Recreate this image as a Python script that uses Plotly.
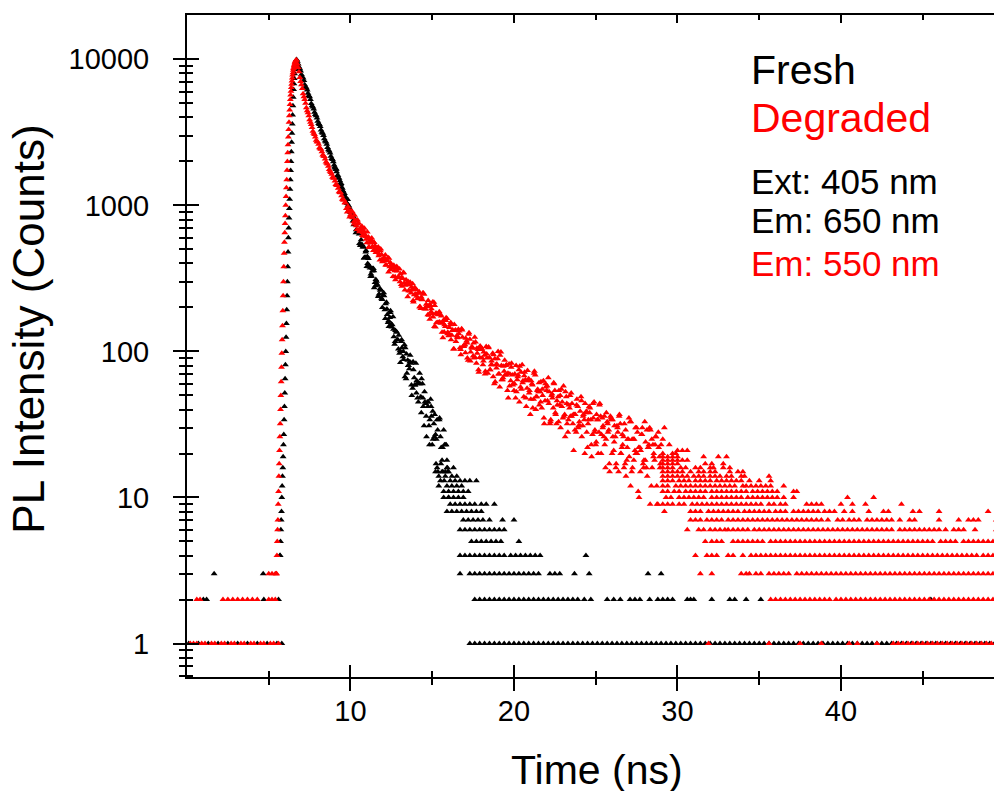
import math
import plotly.graph_objects as go

# PL decay (time in ns, counts)

# rising edge
fresh_rise_t = [5.68, 5.70, 5.72, 5.74, 5.76, 5.78, 5.80, 5.82, 5.84, 5.86,
                5.88, 5.90, 5.92, 5.94, 5.96, 5.98, 6.00, 6.02, 6.04, 6.06,
                6.08, 6.10, 6.12, 6.14, 6.16, 6.18, 6.20, 6.22, 6.24, 6.26,
                6.28, 6.30, 6.32, 6.34, 6.36, 6.38, 6.40, 6.42, 6.44, 6.46,
                6.48, 6.50, 6.52, 6.54, 6.56, 6.58, 6.60, 6.62, 6.64, 6.66]
fresh_rise_c = [4, 4, 5, 6, 7, 8, 10, 12, 14, 16,
                19, 23, 27, 34, 42, 52, 65, 81, 100, 125,
                155, 193, 240, 300, 380, 480, 600, 700, 820, 950,
                1100, 1290, 1500, 1730, 2000, 2330, 2700, 3120, 3600, 4150,
                4800, 5500, 6200, 6800, 7400, 7950, 8500, 8900, 9300, 9600]

degraded_rise_t = [5.46, 5.48, 5.50, 5.52, 5.54, 5.56, 5.58, 5.60, 5.62, 5.64,
                   5.66, 5.68, 5.70, 5.72, 5.74, 5.76, 5.78, 5.80, 5.82, 5.84,
                   5.86, 5.88, 5.90, 5.92, 5.94, 5.96, 5.98, 6.00, 6.02, 6.04,
                   6.06, 6.08, 6.10, 6.12, 6.14, 6.16, 6.18, 6.20, 6.22, 6.24,
                   6.26, 6.28, 6.30, 6.32, 6.34, 6.36, 6.38, 6.40, 6.42, 6.44,
                   6.46, 6.48, 6.50, 6.52, 6.54, 6.56, 6.58, 6.60, 6.62, 6.64, 6.66]
degraded_rise_c = [3, 3, 4, 5, 6, 7, 9, 11, 14, 17,
                   21, 26, 32, 40, 50, 62, 78, 97, 120, 150,
                   190, 240, 300, 380, 470, 560, 650, 750, 850, 1000,
                   1150, 1320, 1500, 1740, 2000, 2290, 2600, 2940, 3300, 3700,
                   4100, 4500, 4900, 5300, 5700, 6050, 6400, 6750, 7100, 7450,
                   7800, 8100, 8400, 8650, 8850, 9050, 9250, 9450, 9600, 9750, 9850]

# decay band (channels on the tenths of a ns)
fresh_decay_t = [6.7, 6.8, 6.9, 7.0, 7.1, 7.2, 7.3, 7.4, 7.5, 7.6,
                 7.7, 7.8, 7.9, 8.0, 8.1, 8.2, 8.3, 8.4, 8.5, 8.6,
                 8.7, 8.8, 8.9, 9.0, 9.1, 9.2, 9.3, 9.4, 9.5, 9.6,
                 9.7, 9.8, 9.9, 10.0, 10.1, 10.2, 10.3, 10.4, 10.5, 10.6,
                 10.7, 10.8, 10.9, 11.0, 11.1, 11.2, 11.3, 11.4, 11.5, 11.6,
                 11.7, 11.8, 11.9, 12.0, 12.1, 12.2, 12.3, 12.4, 12.5, 12.6,
                 12.7, 12.8, 12.9, 13.0, 13.1, 13.2, 13.3, 13.4, 13.5, 13.6,
                 13.7, 13.8, 13.9, 14.0, 14.1, 14.2, 14.3, 14.4, 14.5, 14.6,
                 14.7, 14.8, 14.9, 15.0, 15.1, 15.2, 15.3, 15.4, 15.5, 15.6,
                 15.7, 15.8, 15.9, 16.0]
fresh_decay_c = [9950, 9280, 8600, 7880, 7450, 6700, 6350, 5850, 5540, 4980,
                 4710, 4340, 4100, 3770, 3580, 3280, 3110, 2860, 2710, 2490,
                 2360, 2170, 2060, 1890, 1760, 1600, 1530, 1390, 1310, 1180,
                 1140, 1030, 990, 895, 855, 737, 743, 653, 669, 532,
                 536, 519, 442, 381, 432, 372, 327, 369, 296, 302,
                 239, 268, 231, 243, 193, 217, 158, 171, 154, 173,
                 112, 136, 120, 97, 117, 92, 111, 65, 87, 76,
                 83, 56, 66, 83, 48, 60, 49, 60, 31, 44,
                 45, 31, 47, 23, 32, 27, 34, 12, 26, 18,
                 29, 15, 18, 10]

# decay band (channels half-way between)
fresh_mid_t = [6.75, 6.85, 6.95, 7.05, 7.15, 7.25, 7.35, 7.45, 7.55, 7.65,
               7.75, 7.85, 7.95, 8.05, 8.15, 8.25, 8.35, 8.45, 8.55, 8.65,
               8.75, 8.85, 8.95, 9.05, 9.15, 9.25, 9.35, 9.45, 9.55, 9.65,
               9.75, 9.85, 9.95, 10.05, 10.15, 10.25, 10.35, 10.45, 10.55, 10.65,
               10.75, 10.85, 10.95, 11.05, 11.15, 11.25, 11.35, 11.45, 11.55, 11.65,
               11.75, 11.85, 11.95, 12.05, 12.15, 12.25, 12.35, 12.45, 12.55, 12.65,
               12.75, 12.85, 12.95, 13.05, 13.15, 13.25, 13.35, 13.45, 13.55, 13.65,
               13.75, 13.85, 13.95, 14.05, 14.15, 14.25, 14.35, 14.45, 14.55, 14.65,
               14.75, 14.85, 14.95, 15.05, 15.15, 15.25, 15.35, 15.45, 15.55, 15.65,
               15.75, 15.85, 15.95]
fresh_mid_c = [9700, 8850, 8300, 7600, 7150, 6480, 6150, 5640, 5300, 4800,
               4560, 4190, 3970, 3640, 3460, 3170, 3010, 2760, 2620, 2400,
               2280, 2090, 1990, 1800, 1700, 1545, 1475, 1335, 1255, 1145,
               1095, 1000, 955, 868, 782, 790, 680, 657, 547, 581,
               519, 440, 490, 400, 387, 339, 370, 273, 311, 284,
               247, 264, 200, 240, 212, 179, 148, 190, 152, 126,
               139, 120, 129, 84, 106, 88, 106, 71, 80, 94,
               50, 75, 59, 63, 45, 60, 65, 42, 45, 26,
               45, 34, 36, 25, 37, 25, 15, 35, 22, 15,
               23, 23, 15]

# decay band (a third set of channels, where the band is noisy)
fresh_alt_t = [9.03, 9.13, 9.23, 9.33, 9.43, 9.53, 9.63, 9.73, 9.83, 9.93,
               10.03, 10.13, 10.23, 10.33, 10.43, 10.53, 10.63, 10.73, 10.83, 10.93,
               11.03, 11.13, 11.23, 11.33, 11.43, 11.53, 11.63, 11.73, 11.83, 11.93,
               12.03, 12.13, 12.23, 12.33, 12.43, 12.53, 12.63, 12.73, 12.83, 12.93,
               13.03, 13.13, 13.23, 13.33, 13.43, 13.53, 13.63, 13.73, 13.83, 13.93,
               14.03, 14.13, 14.23, 14.33, 14.43, 14.53, 14.63, 14.73, 14.83, 14.93,
               15.03, 15.13, 15.23, 15.33, 15.43, 15.53, 15.63, 15.73, 15.83, 15.93]
fresh_alt_c = [1830, 1774, 1606, 1388, 1411, 1256, 1206, 1050, 1097, 938,
               854, 835, 821, 650, 653, 636, 543, 535, 434, 480,
               447, 380, 326, 355, 357, 281, 288, 238, 262, 227,
               252, 168, 195, 162, 185, 147, 142, 117, 136, 104,
               101, 120, 100, 67, 96, 80, 85, 59, 85, 59,
               52, 61, 71, 38, 48, 53, 36, 42, 23, 42,
               39, 26, 17, 29, 34, 17, 22, 13, 23, 16]

degraded_decay_t = [6.7, 6.8, 6.9, 7.0, 7.1, 7.2, 7.3, 7.4, 7.5, 7.6,
                    7.7, 7.8, 7.9, 8.0, 8.1, 8.2, 8.3, 8.4, 8.5, 8.6,
                    8.7, 8.8, 8.9, 9.0, 9.1, 9.2, 9.3, 9.4, 9.5, 9.6,
                    9.7, 9.8, 9.9, 10.0, 10.1, 10.2, 10.3, 10.4, 10.5, 10.6,
                    10.7, 10.8, 10.9, 11.0, 11.1, 11.2, 11.3, 11.4, 11.5, 11.6,
                    11.7, 11.8, 11.9, 12.0, 12.1, 12.2, 12.3, 12.4, 12.5, 12.6,
                    12.7, 12.8, 12.9, 13.0, 13.1, 13.2, 13.3, 13.4, 13.5, 13.6,
                    13.7, 13.8, 13.9, 14.0, 14.1, 14.2, 14.3, 14.4, 14.5, 14.6,
                    14.7, 14.8, 14.9, 15.0, 15.1, 15.2, 15.3, 15.4, 15.5, 15.6,
                    15.7, 15.8, 15.9, 16.0, 16.1, 16.2, 16.3, 16.4, 16.5, 16.6,
                    16.7, 16.8, 16.9, 17.0, 17.1, 17.2, 17.3, 17.4, 17.5, 17.6,
                    17.7, 17.8, 17.9, 18.0, 18.1, 18.2, 18.3, 18.4, 18.5, 18.6,
                    18.7, 18.8, 18.9, 19.0, 19.1, 19.2, 19.3, 19.4, 19.5, 19.6,
                    19.7, 19.8, 19.9, 20.0, 20.1, 20.2, 20.3, 20.4, 20.5, 20.6,
                    20.7, 20.8, 20.9, 21.0, 21.1, 21.2, 21.3, 21.4, 21.5, 21.6,
                    21.7, 21.8, 21.9, 22.0, 22.1, 22.2, 22.3, 22.4, 22.5, 22.6,
                    22.7, 22.8, 22.9, 23.0, 23.1, 23.2, 23.3, 23.4, 23.5, 23.6,
                    23.7, 23.8, 23.9, 24.0, 24.1, 24.2, 24.3, 24.4, 24.5, 24.6,
                    24.7, 24.8, 24.9, 25.0, 25.1, 25.2, 25.3, 25.4, 25.5, 25.6,
                    25.7, 25.8, 25.9, 26.0, 26.1, 26.2, 26.3, 26.4, 26.5, 26.6,
                    26.7, 26.8, 26.9, 27.0, 27.1, 27.2, 27.3, 27.4, 27.5, 27.6,
                    27.7, 27.8, 27.9, 28.0, 28.1, 28.2, 28.3, 28.4, 28.5, 28.6,
                    28.7, 28.8, 28.9, 29.0]
degraded_decay_c = [9900, 8800, 7500, 6700, 5800, 5300, 4650, 4300, 3850, 3580,
                    3210, 3050, 2790, 2710, 2480, 2420, 2210, 2160, 1980, 1920,
                    1760, 1680, 1560, 1530, 1390, 1370, 1240, 1220, 1100, 1090,
                    1038, 900, 927, 863, 908, 773, 785, 682, 756, 676,
                    718, 616, 629, 554, 608, 553, 597, 490, 529, 479,
                    519, 423, 461, 422, 431, 389, 437, 380, 393, 326,
                    357, 371, 319, 367, 287, 316, 295, 309, 237, 286,
                    251, 291, 244, 248, 230, 256, 197, 226, 246, 195,
                    203, 177, 206, 182, 217, 147, 180, 158, 179, 135,
                    164, 148, 168, 128, 152, 129, 104, 139, 128, 142,
                    106, 143, 109, 111, 118, 87, 121, 107, 93, 125,
                    83, 103, 91, 103, 81, 94, 108, 71, 91, 81,
                    97, 60, 81, 89, 70, 99, 64, 73, 80, 54,
                    82, 63, 69, 54, 48, 64, 75, 57, 81, 49,
                    64, 56, 65, 37, 60, 47, 69, 49, 53, 53,
                    41, 63, 46, 54, 66, 32, 50, 41, 54, 32,
                    49, 43, 55, 35, 37, 49, 28, 41, 52, 32,
                    37, 28, 42, 33, 49, 31, 34, 38, 22, 42,
                    34, 27, 45, 23, 34, 28, 36, 35, 26, 16,
                    33, 29, 36, 20, 21, 26, 31, 15, 32, 22,
                    26, 17, 18, 25, 33, 15, 25, 21, 30, 11,
                    22, 27, 17, 33, 16, 22, 30, 12, 23, 18,
                    26, 9, 19, 23]

degraded_mid_t = [6.75, 6.85, 6.95, 7.05, 7.15, 7.25, 7.35, 7.45, 7.55, 7.65,
                  7.75, 7.85, 7.95, 8.05, 8.15, 8.25, 8.35, 8.45, 8.55, 8.65,
                  8.75, 8.85, 8.95, 9.05, 9.15, 9.25, 9.35, 9.45, 9.55, 9.65,
                  9.75, 9.85, 9.95, 10.05, 10.15, 10.25, 10.35, 10.45, 10.55, 10.65,
                  10.75, 10.85, 10.95, 11.05, 11.15, 11.25, 11.35, 11.45, 11.55, 11.65,
                  11.75, 11.85, 11.95, 12.05, 12.15, 12.25, 12.35, 12.45, 12.55, 12.65,
                  12.75, 12.85, 12.95, 13.05, 13.15, 13.25, 13.35, 13.45, 13.55, 13.65,
                  13.75, 13.85, 13.95, 14.05, 14.15, 14.25, 14.35, 14.45, 14.55, 14.65,
                  14.75, 14.85, 14.95, 15.05, 15.15, 15.25, 15.35, 15.45, 15.55, 15.65,
                  15.75, 15.85, 15.95, 16.05, 16.15, 16.25, 16.35, 16.45, 16.55, 16.65,
                  16.75, 16.85, 16.95, 17.05, 17.15, 17.25, 17.35, 17.45, 17.55, 17.65,
                  17.75, 17.85, 17.95, 18.05, 18.15, 18.25, 18.35, 18.45, 18.55, 18.65,
                  18.75, 18.85, 18.95, 19.05, 19.15, 19.25, 19.35, 19.45, 19.55, 19.65,
                  19.75, 19.85, 19.95, 20.05, 20.15, 20.25, 20.35, 20.45, 20.55, 20.65,
                  20.75, 20.85, 20.95, 21.05, 21.15, 21.25, 21.35, 21.45, 21.55, 21.65,
                  21.75, 21.85, 21.95, 22.05, 22.15, 22.25, 22.35, 22.45, 22.55, 22.65,
                  22.75, 22.85, 22.95, 23.05, 23.15, 23.25, 23.35, 23.45, 23.55, 23.65,
                  23.75, 23.85, 23.95, 24.05, 24.15, 24.25, 24.35, 24.45, 24.55, 24.65,
                  24.75, 24.85, 24.95, 25.05, 25.15, 25.25, 25.35, 25.45, 25.55, 25.65,
                  25.75, 25.85, 25.95, 26.05, 26.15, 26.25, 26.35, 26.45, 26.55, 26.65,
                  26.75, 26.85, 26.95, 27.05, 27.15, 27.25, 27.35, 27.45, 27.55, 27.65,
                  27.75, 27.85, 27.95, 28.05, 28.15, 28.25, 28.35, 28.45, 28.55, 28.65,
                  28.75, 28.85, 28.95]
degraded_mid_c = [9300, 8200, 7050, 6300, 5550, 5000, 4450, 4100, 3700, 3410,
                  3110, 2940, 2730, 2620, 2440, 2330, 2180, 2080, 1940, 1850,
                  1710, 1630, 1540, 1465, 1375, 1310, 1225, 1165, 1090, 1040,
                  952, 982, 831, 897, 824, 857, 724, 744, 660, 706,
                  650, 696, 587, 594, 515, 583, 522, 557, 476, 510,
                  464, 503, 411, 440, 390, 419, 434, 364, 375, 389,
                  309, 355, 324, 340, 279, 347, 284, 292, 260, 298,
                  263, 218, 268, 239, 250, 203, 227, 251, 196, 202,
                  223, 166, 196, 172, 206, 157, 178, 159, 175, 124,
                  152, 170, 135, 146, 120, 140, 153, 117, 126, 138,
                  95, 125, 110, 123, 90, 134, 99, 107, 90, 116,
                  97, 72, 107, 90, 99, 73, 90, 107, 75, 81,
                  95, 62, 82, 70, 94, 64, 79, 69, 81, 48,
                  70, 83, 60, 70, 53, 69, 79, 55, 63, 72,
                  42, 63, 54, 63, 41, 73, 49, 55, 43, 62,
                  50, 32, 57, 46, 53, 34, 48, 60, 37, 43,
                  54, 30, 45, 36, 53, 32, 43, 36, 44, 21,
                  37, 47, 31, 39, 26, 37, 44, 28, 34, 41,
                  19, 35, 29, 37, 20, 44, 27, 31, 23, 38,
                  28, 15, 34, 26, 31, 17, 28, 37, 20, 23,
                  32, 14, 25, 19, 33, 16, 25, 20, 28, 10,
                  21, 30, 18, 24, 14, 23, 29, 16, 20, 26,
                  9, 22, 17]

degraded_alt_t = [10.03, 10.13, 10.23, 10.33, 10.43, 10.53, 10.63, 10.73, 10.83, 10.93,
                  11.03, 11.13, 11.23, 11.33, 11.43, 11.53, 11.63, 11.73, 11.83, 11.93,
                  12.03, 12.13, 12.23, 12.33, 12.43, 12.53, 12.63, 12.73, 12.83, 12.93,
                  13.03, 13.13, 13.23, 13.33, 13.43, 13.53, 13.63, 13.73, 13.83, 13.93,
                  14.03, 14.13, 14.23, 14.33, 14.43, 14.53, 14.63, 14.73, 14.83, 14.93,
                  15.03, 15.13, 15.23, 15.33, 15.43, 15.53, 15.63, 15.73, 15.83, 15.93,
                  16.03, 16.13, 16.23, 16.33, 16.43, 16.53, 16.63, 16.73, 16.83, 16.93,
                  17.03, 17.13, 17.23, 17.33, 17.43, 17.53, 17.63, 17.73, 17.83, 17.93,
                  18.03, 18.13, 18.23, 18.33, 18.43, 18.53, 18.63, 18.73, 18.83, 18.93,
                  19.03, 19.13, 19.23, 19.33, 19.43, 19.53, 19.63, 19.73, 19.83, 19.93,
                  20.03, 20.13, 20.23, 20.33, 20.43, 20.53, 20.63, 20.73, 20.83, 20.93,
                  21.03, 21.13, 21.23, 21.33, 21.43, 21.53, 21.63, 21.73, 21.83, 21.93,
                  22.03, 22.13, 22.23, 22.33, 22.43, 22.53, 22.63, 22.73, 22.83, 22.93,
                  23.03, 23.13, 23.23, 23.33, 23.43, 23.53, 23.63, 23.73, 23.83, 23.93,
                  24.03, 24.13, 24.23, 24.33, 24.43, 24.53, 24.63, 24.73, 24.83, 24.93,
                  25.03, 25.13, 25.23, 25.33, 25.43, 25.53, 25.63, 25.73, 25.83, 25.93,
                  26.03, 26.13, 26.23, 26.33, 26.43, 26.53, 26.63, 26.73, 26.83, 26.93,
                  27.03, 27.13, 27.23, 27.33, 27.43, 27.53, 27.63, 27.73, 27.83, 27.93,
                  28.03, 28.13, 28.23, 28.33, 28.43, 28.53, 28.63, 28.73, 28.83, 28.93]
degraded_alt_c = [919, 825, 745, 788, 793, 680, 693, 621, 664, 613,
                  658, 521, 570, 517, 560, 500, 496, 451, 489, 426,
                  418, 458, 417, 349, 406, 371, 380, 324, 381, 320,
                  300, 322, 344, 263, 290, 301, 259, 276, 223, 274,
                  265, 229, 201, 236, 251, 196, 210, 178, 209, 187,
                  218, 148, 183, 158, 187, 156, 157, 136, 163, 132,
                  132, 158, 139, 104, 140, 124, 132, 103, 140, 108,
                  98, 114, 131, 86, 105, 114, 91, 105, 75, 109,
                  105, 86, 70, 96, 106, 75, 86, 67, 89, 77,
                  100, 57, 80, 66, 87, 69, 71, 58, 78, 59,
                  60, 80, 67, 45, 72, 61, 68, 48, 74, 52,
                  47, 59, 71, 40, 54, 61, 45, 55, 35, 60,
                  58, 44, 33, 51, 61, 38, 46, 33, 50, 42,
                  58, 26, 44, 34, 50, 36, 37, 29, 43, 30,
                  31, 46, 36, 20, 39, 32, 38, 23, 44, 28,
                  24, 34, 43, 20, 30, 36, 25, 32, 17, 35,
                  34, 24, 16, 30, 36, 20, 27, 16, 29, 22,
                  35, 12, 25, 18, 30, 20, 22, 15, 27, 16,
                  18, 29, 22, 9, 25, 19, 23, 12, 28, 16]

# low-count channels: times at which each integer count shows up
fresh_l1 = [0.1, 0.7, 1.3, 1.9, 2.5, 3.1, 3.7, 4.3, 4.9, 5.5, 5.8,
            17.3, 17.6, 17.9, 18.2, 18.5, 18.8, 19.1, 19.4, 19.7, 20.0, 20.3, 20.6, 20.9, 21.2,
            21.5, 21.8, 22.1, 22.4, 22.7, 23.0, 23.3, 23.6, 23.9, 24.2, 24.5, 24.8, 25.1, 25.4,
            25.7, 26.0, 26.3, 26.6, 26.9, 27.2, 27.5, 27.8, 28.1, 28.4, 28.7, 29.0, 29.3, 29.6,
            29.9, 30.2, 30.5, 30.8, 31.1, 31.4, 31.7, 32.0, 32.3, 32.6, 32.9, 33.2, 33.5, 33.8,
            34.1, 34.4, 34.7, 35.0, 35.3, 35.6, 35.9, 36.2, 36.5, 36.8, 37.1, 37.4, 37.7, 38.0,
            38.3, 38.6, 38.9, 39.2, 39.5, 39.8, 40.1, 40.4, 40.7, 41.0, 41.3, 41.6, 41.9, 42.2,
            42.5, 42.8, 43.1, 43.4, 43.7, 44.0, 44.3, 44.6, 44.9, 45.2, 45.5, 45.8, 46.1, 46.4,
            46.7, 47.0, 47.3, 47.6, 47.9, 48.2, 48.5, 48.8, 49.1, 49.4, 49.7]
fresh_l2 = [1.0, 1.2, 4.7, 5.6,
            17.6, 17.9, 18.2, 18.5, 18.8, 19.1, 19.4, 19.7, 20.0, 20.3, 20.6, 20.9, 21.2, 21.5,
            21.8, 22.1, 22.4, 22.7, 23.0, 23.3, 23.6, 23.9, 24.3, 24.7, 25.7, 26.1, 26.5, 27.1,
            27.4, 27.7, 28.3, 28.8, 29.1, 29.4, 29.7, 30.6, 30.8, 31.0, 32.1, 33.2, 33.5, 34.2,
            35.1, 45.5]
fresh_l3 = [1.66, 4.66, 16.7, 17.3, 17.6, 17.9, 18.2, 18.5, 18.8, 19.1, 19.4, 19.7, 20.0, 20.3,
            20.6, 20.9, 21.2, 21.5, 22.2, 22.5, 22.8, 23.7, 24.6, 28.2, 29.0]
fresh_l4 = [16.7, 17.0, 17.3, 17.6, 17.9, 18.2, 18.5, 18.8, 19.1, 19.4, 19.8, 20.1, 20.4, 20.7,
            21.0, 21.3, 21.6, 24.4]
fresh_l5 = [17.4, 17.7, 18.0, 18.3, 18.6, 18.9, 19.2, 20.3]
fresh_l6 = [16.7, 17.0, 17.3, 17.6, 17.9, 18.2, 18.5, 18.8, 19.1, 19.4]
fresh_l7 = [16.9, 17.2, 17.5, 17.8, 18.1, 18.5, 19.3, 20.0]
fresh_l8 = [15.9, 16.2, 16.5, 16.8, 17.1, 17.4, 17.7, 18.0]
fresh_l9 = [16.1, 16.4, 16.7, 17.0, 17.3, 17.6, 18.0, 18.3, 18.8]
fresh_l10 = [15.7, 16.0, 16.3, 16.6, 16.9]
fresh_l11 = [15.7, 16.0, 16.3, 16.6, 16.9, 17.2]
fresh_l12 = [15.9, 16.2, 16.5, 16.8]
fresh_l13 = [15.5, 16.1, 16.4, 16.7, 17.0, 17.3, 17.7]
fresh_l14 = [15.4, 15.8, 16.2, 16.5]
fresh_l15 = [15.2, 15.6, 16.0]
fresh_l16 = [15.3, 15.9, 16.3]

degraded_l1 = [0.2, 0.4, 0.6, 0.9, 1.1, 1.5, 1.7, 2.1, 2.3, 2.7, 2.9, 3.3, 3.5, 3.9, 4.1, 4.5,
               4.7, 5.1, 5.3, 5.6, 31.9, 35.6, 37.5, 38.8, 40.5, 41.0, 42.2,
               43.2, 43.5, 43.8, 44.1, 44.4, 44.7, 45.0, 45.3, 45.6, 45.9, 46.2, 46.5, 46.8,
               47.1, 47.4, 47.7, 48.0, 48.3, 48.6, 48.9, 49.2, 49.5, 49.8]
degraded_l2 = [0.6, 0.8, 2.2, 2.5, 2.8, 3.1, 3.4, 3.7, 4.0, 4.3, 5.0, 5.2, 5.4,
               35.7, 36.0, 36.3, 36.6, 36.9, 37.2, 37.5, 37.8, 38.1, 38.4, 38.7, 39.0, 39.3,
               39.7, 40.0, 40.3, 40.6, 40.9, 41.2, 41.5, 41.8, 42.1, 42.4, 42.7, 43.0, 43.3,
               43.6, 43.9, 44.2, 44.5, 44.8, 45.1, 45.4, 45.7, 46.0, 46.3, 46.6, 46.9, 47.2,
               47.5, 47.8, 48.1, 48.4, 48.7, 49.0, 49.3, 49.6, 49.9]
degraded_l3 = [5.0, 5.2, 5.4, 31.4, 32.1, 33.9, 34.2, 34.4, 34.8, 35.1, 35.6, 35.9, 36.2, 36.5,
               36.8, 37.3, 37.6, 37.9, 38.2, 38.5, 38.8, 39.1, 39.4, 39.7, 40.0, 40.3, 40.6,
               40.9, 41.2, 41.5, 41.8, 42.1, 42.4, 42.7, 43.0, 43.3, 43.6, 43.9, 44.2, 44.5,
               44.8, 45.1, 45.4, 45.7, 46.0, 46.3, 46.6, 46.9, 47.2, 47.5, 47.8, 48.1, 48.4,
               48.7, 49.0, 49.3, 49.6, 49.9]
degraded_l4 = [31.1, 31.8, 32.1, 32.4, 33.1, 33.4, 34.0, 34.5, 34.8, 35.1, 35.4, 35.7, 36.0,
               36.3, 36.6, 36.9, 37.2, 37.5, 37.8, 38.1, 38.4, 38.7, 39.0, 39.3, 39.6, 39.9,
               40.2, 40.5, 40.8, 41.1, 41.4, 41.7, 42.0, 42.3, 42.6, 42.9, 43.2, 43.5, 43.8,
               44.1, 44.4, 44.7, 45.0, 45.3, 45.6, 45.9, 46.2, 46.5, 46.8, 47.1, 47.4, 47.7,
               48.0, 48.3, 48.7, 49.0, 49.3, 49.6]
degraded_l5 = [31.7, 32.1, 32.4, 32.7, 33.4, 33.7, 34.0, 34.3, 34.6, 34.9, 35.2, 35.7, 36.0,
               36.3, 36.6, 36.9, 37.2, 37.5, 37.8, 38.1, 38.4, 38.7, 39.0, 39.3, 39.6, 39.9,
               40.2, 40.5, 40.8, 41.1, 41.4, 41.7, 42.0, 42.3, 42.6, 42.9, 43.2, 43.5, 43.8,
               44.1, 44.4, 44.7, 45.0, 45.3, 45.6, 46.1, 46.4, 46.7, 47.0, 47.5, 47.8, 48.1,
               48.4, 48.7, 49.0, 49.3, 49.6]
degraded_l6 = [30.6, 31.3, 31.6, 32.0, 32.3, 32.6, 32.9, 33.1, 33.4, 33.7, 34.0, 34.3, 34.7,
               35.0, 35.3, 35.6, 35.9, 36.2, 36.5, 36.8, 37.1, 37.4, 37.7, 38.0, 38.3, 38.6,
               38.9, 39.2, 39.5, 39.8, 40.1, 40.4, 40.7, 41.0, 41.3, 41.6, 41.9, 42.2, 42.5,
               42.8, 43.1, 43.6, 43.9, 44.2, 44.5, 44.8, 45.1, 45.4, 45.7, 46.0, 46.4, 46.9,
               47.2, 47.5, 48.2, 49.5]
degraded_l7 = [30.8, 31.1, 31.4, 31.8, 32.1, 32.4, 32.7, 33.1, 33.4, 33.7, 34.0, 34.3, 34.6,
               34.9, 35.2, 35.5, 35.8, 36.1, 36.4, 36.7, 37.0, 37.3, 37.6, 37.9, 38.2, 38.5,
               38.8, 39.2, 39.8, 40.1, 40.5, 40.8, 41.1, 41.6, 41.9, 42.2, 42.5, 42.8, 43.1,
               43.6, 44.2, 44.5, 46.0, 47.2, 47.8, 48.1, 48.4, 49.5]
degraded_l8 = [29.2, 30.8, 31.1, 31.4, 31.9, 32.2, 32.5, 32.8, 33.1, 33.4, 33.7, 34.1, 34.4,
               34.7, 35.0, 35.3, 35.6, 36.0, 36.3, 36.6, 37.1, 37.4, 37.7, 38.0, 38.3, 38.6,
               39.0, 39.3, 39.6, 40.2, 40.7, 41.7, 42.6, 42.9, 44.4, 44.8, 46.0, 49.0]
degraded_l9 = [29.1, 29.4, 29.7, 30.1, 30.4, 30.9, 31.2, 31.5, 31.8, 32.1, 32.4, 32.7, 33.0,
               33.3, 33.6, 33.9, 34.2, 34.5, 34.8, 35.1, 35.6, 35.9, 36.3, 36.6, 37.9, 38.2,
               38.5, 38.8, 40.0, 40.7, 41.5, 43.7]
degraded_l10 = [29.3, 29.6, 30.1, 30.4, 30.7, 31.0, 31.3, 31.6, 32.1, 32.4, 32.7, 33.0, 33.3,
                33.6, 33.9, 34.3, 34.6, 34.9, 35.2, 35.5, 35.8, 36.1, 36.5, 37.1, 40.4, 42.0]
degraded_l11 = [29.1, 29.4, 29.8, 30.1, 30.5, 30.8, 31.1, 31.4, 31.7, 32.1, 32.4, 32.7, 33.0,
                33.3, 33.6, 33.9, 34.2, 34.6, 34.9, 35.2, 35.5, 35.8, 36.1, 37.1, 37.3]
degraded_l12 = [29.1, 29.4, 29.9, 30.2, 30.5, 30.8, 31.1, 31.4, 31.7, 32.0, 32.3, 32.6, 32.9,
                33.2, 33.5, 34.0, 34.2, 34.5, 34.8, 35.1, 35.4, 35.7, 36.5]
degraded_l13 = [29.1, 29.4, 29.7, 30.1, 30.4, 30.7, 31.1, 31.4, 31.7, 32.0, 32.4, 32.7, 33.0,
                33.3, 33.6, 33.9, 34.4, 35.0, 35.7]
degraded_l14 = [29.1, 29.4, 29.7, 30.0, 30.3, 30.6, 31.0, 31.3, 31.6, 32.0, 32.3, 32.6, 33.0,
                33.3, 33.9, 34.1, 35.6]
degraded_l15 = [29.1, 29.4, 29.7, 30.0, 30.3, 30.8, 31.3, 31.6, 32.0, 32.3, 33.2, 33.7, 34.0]
degraded_l16 = [29.1, 29.4, 29.7, 30.2, 30.5, 31.1, 31.4, 32.0, 32.2, 32.8, 33.2]
degraded_l17 = [29.1, 29.4, 29.7, 30.0, 31.7, 32.1, 32.8]
degraded_l18 = [29.1, 29.4, 29.7, 30.0, 30.3, 30.6]
degraded_l19 = [29.1, 29.4, 29.7, 30.0, 31.6, 32.5, 33.0]
degraded_l20 = [29.1, 29.7, 29.9]
degraded_l21 = [30.0, 30.3, 30.6]
degraded_high_t = [29.1, 29.2, 29.5]
degraded_high_c = [25, 30, 23]

fresh_levels = [(1, fresh_l1), (2, fresh_l2), (3, fresh_l3), (4, fresh_l4), (5, fresh_l5),
                (6, fresh_l6), (7, fresh_l7), (8, fresh_l8), (9, fresh_l9), (10, fresh_l10),
                (11, fresh_l11), (12, fresh_l12), (13, fresh_l13), (14, fresh_l14),
                (15, fresh_l15), (16, fresh_l16)]
degraded_levels = [(1, degraded_l1), (2, degraded_l2), (3, degraded_l3), (4, degraded_l4),
                   (5, degraded_l5), (6, degraded_l6), (7, degraded_l7), (8, degraded_l8),
                   (9, degraded_l9), (10, degraded_l10), (11, degraded_l11), (12, degraded_l12),
                   (13, degraded_l13), (14, degraded_l14), (15, degraded_l15), (16, degraded_l16),
                   (17, degraded_l17), (18, degraded_l18), (19, degraded_l19), (20, degraded_l20),
                   (21, degraded_l21)]


def collect(pairs, levels):
    xs, ys = [], []
    for t, c in pairs:
        xs += list(t)
        ys += list(c)
    for lvl, times in levels:
        xs += times
        ys += [lvl] * len(times)
    return xs, ys


FONT = "Liberation Sans, Arial, sans-serif"
x_range = [0, 49.85]
y_range = [math.log10(0.59), math.log10(20100)]
y_major = [1, 10, 100, 1000, 10000]
y_minor = [0.6, 0.7, 0.8, 0.9] + [m * 10 ** d for d in range(0, 4) for m in range(2, 10)]
x_major = [10, 20, 30, 40]
x_minor = [5, 15, 25, 35, 45]

fig = go.Figure()

fx, fy = collect([(fresh_rise_t, fresh_rise_c), (fresh_decay_t, fresh_decay_c),
                  (fresh_mid_t, fresh_mid_c), (fresh_alt_t, fresh_alt_c)], fresh_levels)
dx, dy = collect([(degraded_rise_t, degraded_rise_c), (degraded_decay_t, degraded_decay_c),
                  (degraded_mid_t, degraded_mid_c), (degraded_alt_t, degraded_alt_c),
                  (degraded_high_t, degraded_high_c)], degraded_levels)

fig.add_trace(go.Scatter(x=fx, y=fy, mode="markers", name="Fresh",
                         marker=dict(symbol="triangle-up", size=6, color="black")))
fig.add_trace(go.Scatter(x=dx, y=dy, mode="markers", name="Degraded",
                         marker=dict(symbol="triangle-up", size=6, color="#ff0000")))
# empty traces so the overlay axes get drawn
fig.add_trace(go.Scatter(x=[], y=[], xaxis="x2", yaxis="y2", hoverinfo="skip"))
fig.add_trace(go.Scatter(x=[], y=[], xaxis="x3", yaxis="y3", hoverinfo="skip"))

common = dict(showgrid=False, zeroline=False, tickcolor="black", tickwidth=2, automargin=False)

# the page body adds an 8 px offset, so the figure is 8 px smaller than the window
fig.update_layout(
    width=994, height=783,
    margin=dict(l=179, r=0, t=7, b=114),
    paper_bgcolor="white", plot_bgcolor="white",
    showlegend=False,
    font=dict(family=FONT, color="black"),
    xaxis=dict(range=x_range, tickvals=x_major, ticks="outside", ticklen=12,
               tickfont=dict(size=29, family=FONT), ticklabelstandoff=-5,
               showline=True, linecolor="black", linewidth=2,
               minor=dict(tickvals=x_minor, ticks="outside", ticklen=6, tickwidth=2, tickcolor="black"),
               **common),
    xaxis2=dict(range=x_range, overlaying="x", anchor="y", side="bottom", tickvals=x_major,
                ticks="inside", ticklen=12, showticklabels=False, showline=False,
                minor=dict(tickvals=x_minor, ticks="inside", ticklen=6, tickwidth=2, tickcolor="black"),
                **common),
    xaxis3=dict(range=x_range, overlaying="x", anchor="y", side="top", tickvals=x_major,
                ticks="inside", ticklen=8, showticklabels=False,
                showline=True, linecolor="black", linewidth=2,
                minor=dict(tickvals=x_minor, ticks="inside", ticklen=5, tickwidth=2, tickcolor="black"),
                **common),
    yaxis=dict(type="log", range=y_range, tickvals=y_major, ticktext=[str(v) for v in y_major],
               ticks="outside", ticklen=12, tickfont=dict(size=29, family=FONT), ticklabelstandoff=18,
               showline=True, linecolor="black", linewidth=2,
               minor=dict(tickvals=y_minor, ticks="outside", ticklen=6, tickwidth=2, tickcolor="black"),
               **common),
    yaxis2=dict(type="log", range=y_range, overlaying="y", anchor="x", side="left",
                tickvals=y_major, ticks="inside", ticklen=12, showticklabels=False, showline=False,
                minor=dict(tickvals=y_minor, ticks="inside", ticklen=6, tickwidth=2, tickcolor="black"),
                **common),
    yaxis3=dict(type="log", range=y_range, overlaying="y", anchor="x", side="right",
                tickvals=y_major, ticks="inside", ticklen=8, showticklabels=False, showline=False,
                minor=dict(tickvals=y_minor, ticks="inside", ticklen=4, tickwidth=2, tickcolor="black"),
                **common),
)

labels = [
    ("Fresh", 0.917, 41, "black"),
    ("Degraded", 0.844, 41, "#ff0000"),
    ("Ext: 405 nm", 0.749, 35, "black"),
    ("Em: 650 nm", 0.689, 35, "black"),
    ("Em: 550 nm", 0.624, 35, "#ff0000"),
]
for text, ypos, size, color in labels:
    fig.add_annotation(text=text, xref="paper", yref="paper", x=0.689, y=ypos,
                       xanchor="left", yanchor="middle", showarrow=False,
                       font=dict(size=size, color=color, family=FONT))

fig.add_annotation(text="Time (ns)", xref="paper", yref="paper", x=0.503, y=-0.141,
                   xanchor="center", yanchor="middle", showarrow=False,
                   font=dict(size=41, family=FONT))
fig.add_annotation(text="PL Intensity (Counts)", xref="paper", yref="paper", x=-0.194, y=0.526,
                   xanchor="center", yanchor="middle", textangle=-90, showarrow=False,
                   font=dict(size=44, family=FONT))

fig.write_html("out.html")
